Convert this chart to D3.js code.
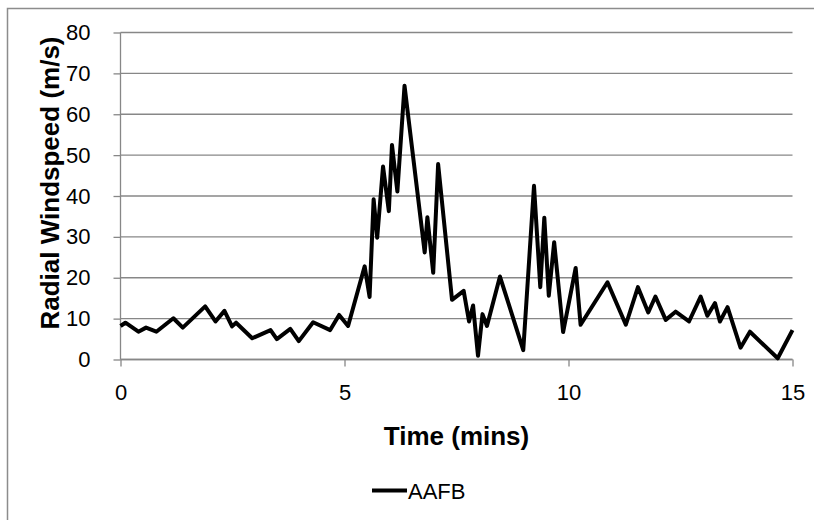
<!DOCTYPE html>
<html><head><meta charset="utf-8">
<script src="https://cdn.jsdelivr.net/npm/d3@7/dist/d3.min.js"></script>
<style>body{margin:0;background:#fff}svg{display:block}</style>
</head><body>
<script>
const times = [0,0.11,0.40,0.57,0.80,1.18,1.39,1.89,2.12,2.32,2.49,2.58,2.94,3.35,3.49,3.79,3.98,4.30,4.68,4.88,5.08,5.45,5.56,5.65,5.73,5.86,5.99,6.06,6.18,6.34,6.79,6.85,6.98,7.09,7.40,7.66,7.78,7.87,7.98,8.08,8.18,8.47,8.99,9.23,9.37,9.46,9.56,9.68,9.88,10.16,10.27,10.87,11.28,11.55,11.78,11.94,12.17,12.39,12.69,12.95,13.10,13.27,13.38,13.55,13.84,14.05,14.67,15.0];
const windspeed = [8.2,9.0,6.8,7.8,6.8,10.1,7.8,13.0,9.3,11.9,8.1,9.0,5.2,7.2,5.0,7.5,4.5,9.1,7.2,10.9,8.2,22.8,15.3,39.2,29.8,47.2,36.3,52.5,41.1,67.0,26.2,34.8,21.2,47.8,14.6,16.8,9.3,13.2,0.9,11.1,8.2,20.3,2.3,42.5,17.7,34.7,15.6,28.7,6.7,22.4,8.5,18.9,8.5,17.7,11.5,15.4,9.7,11.7,9.3,15.4,10.7,13.8,9.3,12.8,2.9,6.8,0.3,7.2];
const xTicks = [0,5,10,15];
const yTicks = [0,10,20,30,40,50,60,70,80];
const seriesName = "AAFB";
const xTitle = "Time (mins)";
const yTitle = "Radial Windspeed (m/s)";

const W = 814, H = 520;
const svg = d3.select("body").append("svg").attr("width", W).attr("height", H);
// chart area border
svg.append("rect").attr("x",7.5).attr("y",8.5).attr("width",830).attr("height",530)
  .attr("fill","#fff").attr("stroke","#8c8c8c").attr("stroke-width",1.5);

const x = d3.scaleLinear().domain([0,15]).range([120.5,792.5]);
const y = d3.scaleLinear().domain([0,80]).range([359.5,32.5]);
const font = "'Liberation Sans', Arial, sans-serif";
const gridC = "#878787";

// gridlines
svg.append("g").selectAll("line").data(yTicks).join("line")
  .attr("x1", x(0)).attr("x2", x(15))
  .attr("y1", d=>y(d)).attr("y2", d=>y(d))
  .attr("stroke", gridC).attr("stroke-width",1.3);

// y axis
const yAxis = svg.append("g").attr("transform",`translate(${x(0)},0)`)
  .call(d3.axisLeft(y).tickValues(yTicks).tickSize(7).tickPadding(23).tickFormat(d3.format("d")));
// x axis
const xAxis = svg.append("g").attr("transform",`translate(0,${y(0)})`)
  .call(d3.axisBottom(x).tickValues(xTicks).tickSize(7).tickPadding(18).tickFormat(d3.format("d")));
[yAxis,xAxis].forEach(g=>{
  g.select(".domain").attr("stroke",gridC).attr("stroke-width",1.3);
  g.selectAll(".tick line").attr("stroke",gridC).attr("stroke-width",1.3);
  g.selectAll(".tick text").attr("fill","#000").style("font-family",font).style("font-size","22px");
});
yAxis.select(".domain").attr("d",`M0,${y(80)}V${y(0)}`);
xAxis.select(".domain").attr("d",`M${x(0)},0H${x(15)}`);

// line
const line = d3.line().x((d,i)=>x(times[i])).y(d=>y(d));
svg.append("path").datum(windspeed).attr("d",line)
  .attr("fill","none").attr("stroke","#000").attr("stroke-width",4)
  .attr("stroke-linejoin","round").attr("stroke-linecap","butt");

// titles
svg.append("text").attr("x", (x(0)+x(15))/2).attr("y", 445)
  .attr("text-anchor","middle").style("font-family",font).style("font-weight","bold")
  .style("font-size","26px").text(xTitle);
svg.append("text").attr("transform",`translate(59,183) rotate(-90)`)
  .attr("text-anchor","middle").style("font-family",font).style("font-weight","bold")
  .style("font-size","26px").text(yTitle);

// legend
svg.append("line").attr("x1",372).attr("x2",407).attr("y1",490.5).attr("y2",490.5)
  .attr("stroke","#000").attr("stroke-width",4);
svg.append("text").attr("x",408).attr("y",499).style("font-family",font)
  .style("font-size","22px").text(seriesName);
</script>
</body></html>
